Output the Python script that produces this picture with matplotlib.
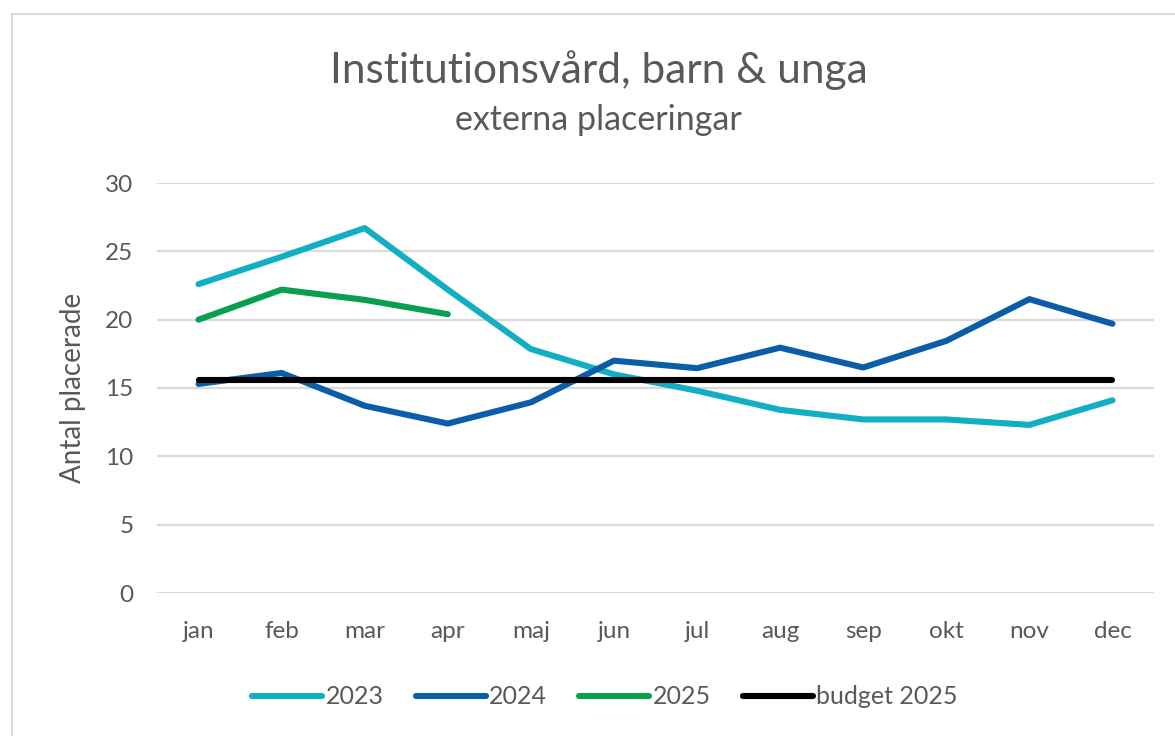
import matplotlib.pyplot as plt
from matplotlib.patches import Rectangle

# data
months = ["jan", "feb", "mar", "apr", "maj", "jun", "jul", "aug", "sep", "okt", "nov", "dec"]
v2023 = [22.6, 24.6, 26.7, 22.2, 17.85, 16.0, 14.8, 13.4, 12.7, 12.7, 12.3, 14.1]
v2024 = [15.3, 16.1, 13.7, 12.4, 13.95, 17.0, 16.45, 17.95, 16.5, 18.45, 21.5, 19.7]
v2025 = [20.0, 22.2, 21.45, 20.4]
budget2025 = [15.6] * 12
yticks = [0, 5, 10, 15, 20, 25, 30]

TXT = "#595959"
plt.rcParams['font.family'] = ['Lato', 'DejaVu Sans']

fig = plt.figure(figsize=(11.75, 7.36), dpi=100)
ax = fig.add_axes([157 / 1175, 1 - 593 / 736, (1154 - 157) / 1175, (593 - 183) / 736])

# outer chart border (only top/left visible in the crop)
fig.patches.append(Rectangle((12 / 1175, -0.1), 1.2, 1.1 - 14 / 736,
                             transform=fig.transFigure, fill=False,
                             edgecolor="#D9D9D9", linewidth=1.5))

x = list(range(len(months)))
lw = 4.4
ax.plot(x, v2023, color="#12AEC3", lw=lw, solid_capstyle="round", solid_joinstyle="round", label="2023")
ax.plot(x, v2024, color="#0B5DA8", lw=lw, solid_capstyle="round", solid_joinstyle="round", label="2024")
ax.plot(x[:len(v2025)], v2025, color="#06A04F", lw=lw, solid_capstyle="round", solid_joinstyle="round", label="2025")
ax.plot(x, budget2025, color="black", lw=lw, solid_capstyle="round", label="budget 2025")

ax.set_xlim(-0.5, len(months) - 0.5)
ax.set_ylim(0, 30)
ax.set_yticks(yticks)
ax.set_xticks(x)
ax.set_xticklabels(months)
ax.grid(axis="y", color="#D9D9D9", linewidth=1.6)
ax.set_axisbelow(True)
for s in ax.spines.values():
    s.set_visible(False)
ax.tick_params(length=0, labelsize=17.5, labelcolor=TXT)
ax.tick_params(axis="y", pad=17)
ax.tick_params(axis="x", pad=20)
ax.set_ylabel("Antal placerade", fontsize=20, color=TXT, labelpad=14)

fig.text(599 / 1175, 1 - 70 / 736, "Institutionsvård, barn & unga", ha="center", va="center",
         fontsize=30.5, color=TXT)
fig.text(598 / 1175, 1 - 120 / 736, "externa placeringar", ha="center", va="center",
         fontsize=24.5, color=TXT)

leg = fig.legend(loc="center", bbox_to_anchor=(605 / 1175, 1 - 697 / 736), ncol=4, frameon=False,
                 fontsize=18, handlelength=2.8, handletextpad=0.12, columnspacing=1.3,
                 labelcolor=TXT)

fig.savefig("out.png", dpi=100)
